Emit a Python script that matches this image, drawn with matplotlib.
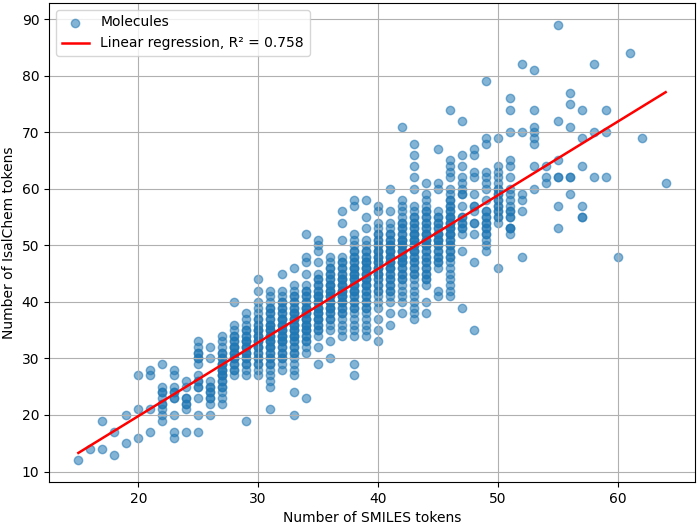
import numpy as np
import matplotlib
matplotlib.use("Agg")
import matplotlib.pyplot as plt

# number of SMILES tokens (one entry per column of points)
smiles_tokens = [15, 16, 17, 18, 19, 20, 21, 22, 23, 24, 25, 26, 27, 28, 29, 30, 31, 32, 33, 34,
                 35, 36, 37, 38, 39, 40, 41, 42, 43, 44, 45, 46, 47, 48, 49, 50, 51, 52, 53, 54,
                 55, 56, 57, 58, 59, 60, 61, 62, 64]

# number of IsalChem tokens for the molecules of each column
isalchem_tokens = [
    [12],
    [14],
    [19, 14],
    [17, 13],
    [20, 15],
    [27, 21, 16],
    [28, 27, 21, 17],
    [29, 25, 24, 23, 22, 21, 20, 19],
    [28, 27, 25, 24, 23, 20, 17, 16],
    [26, 25, 23, 22, 21, 17],
    [33, 32, 31, 30, 29, 27, 26, 25, 23, 20, 17],
    [32, 30, 26, 25, 24, 23, 22, 20],
    [34, 33, 32, 31, 30, 29, 28, 27, 26, 25, 24, 23, 22],
    [40, 36, 35, 34, 33, 32, 31, 30, 29, 28, 27],
    [38, 37, 36, 35, 34, 33, 32, 31, 30, 29, 28, 27, 19],
    [44, 42, 40, 39, 38, 37, 36, 35, 34, 33, 32, 31, 30, 29, 28, 27],
    [42, 41, 40, 39, 38, 37, 36, 35, 34, 33, 32, 31, 30, 29, 28, 27, 26, 25, 21],
    [45, 42, 41, 40, 39, 38, 37, 36, 35, 34, 33, 32, 31, 30, 29, 28],
    [46, 43, 42, 41, 40, 39, 38, 37, 36, 35, 34, 33, 32, 31, 30, 29, 28, 27, 24, 20],
    [52, 48, 47, 45, 43, 42, 41, 40, 39, 38, 37, 36, 35, 34, 33, 32, 31, 23],
    [51, 50, 49, 47, 45, 44, 43, 42, 41, 40, 39, 38, 37, 36, 35, 34, 32, 29],
    [48, 47, 46, 45, 44, 43, 42, 41, 40, 39, 38, 37, 36, 35, 33, 30],
    [56, 54, 51, 48, 47, 46, 45, 44, 43, 42, 41, 40, 39, 38, 37, 36, 35, 34],
    [58, 57, 52, 51, 50, 49, 48, 47, 46, 45, 44, 43, 42, 41, 40, 39, 38, 37, 36, 35, 34, 29, 27],
    [58, 55, 53, 51, 50, 49, 48, 47, 46, 45, 44, 43, 42, 41, 40, 39, 38, 37, 36, 35, 34],
    [57, 56, 54, 53, 52, 51, 50, 49, 48, 47, 46, 45, 44, 43, 42, 41, 40, 39, 37, 35, 33],
    [60, 56, 54, 53, 52, 51, 50, 49, 48, 47, 46, 45, 44, 43, 42, 41, 40, 38, 36],
    [71, 58, 57, 56, 55, 54, 53, 52, 51, 50, 49, 48, 47, 46, 45, 44, 43, 42, 41, 40, 38],
    [68, 66, 64, 62, 60, 57, 56, 55, 54, 53, 52, 51, 50, 49, 48, 47, 46, 45, 44, 43, 42, 41, 40, 39, 38, 37],
    [61, 59, 58, 57, 56, 55, 54, 53, 52, 51, 50, 49, 48, 47, 46, 45, 44, 43, 40, 38],
    [67, 61, 60, 56, 55, 54, 53, 52, 51, 50, 49, 48, 47, 46, 42, 41],
    [74, 65, 64, 63, 62, 60, 59, 58, 57, 56, 55, 54, 53, 52, 51, 50, 49, 48, 47, 46, 45, 44, 43, 42, 41],
    [72, 66, 64, 62, 61, 60, 59, 57, 55, 54, 53, 52, 49, 39],
    [67, 66, 63, 62, 59, 57, 56, 54, 52, 47, 35],
    [79, 69, 68, 63, 62, 61, 60, 58, 56, 55, 54, 53, 52, 51, 50, 49],
    [69, 64, 63, 62, 61, 60, 59, 58, 57, 56, 55, 54, 46],
    [76, 74, 70, 65, 64, 62, 60, 59, 58, 57, 56, 55, 53, 52],
    [82, 70, 59, 58, 56, 48],
    [81, 74, 71, 70, 69, 68, 64, 60],
    [64, 62, 61],
    [89, 72, 65, 62, 57, 53],
    [77, 75, 71, 62, 59],
    [74, 69, 64, 57, 55],
    [82, 70, 62],
    [74, 70, 62],
    [48],
    [84],
    [69],
    [61],
]

# further molecules that share a value with one already listed (dense core)
isalchem_repeats = [
    [], [], [], [], [], [], [],
    [24, 22],
    [24, 23],
    [23, 22],
    [31, 30, 26, 25],
    [25, 24, 23],
    [31, 30, 29, 28, 27, 26, 25, 29, 28, 27],
    [34, 33, 32, 31, 30, 29, 28, 32, 31, 30],
    [35, 34, 33, 32, 31, 30, 29, 33, 32, 31],
    [37, 36, 35, 34, 33, 32, 31, 30, 29, 35, 34, 33, 32],
    [39, 38, 37, 36, 35, 34, 33, 32, 31, 30, 29, 36, 35, 34, 33, 32],
    [40, 39, 38, 37, 36, 35, 34, 33, 32, 31, 30, 37, 36, 35, 34, 33],
    [41, 40, 39, 38, 37, 36, 35, 34, 33, 32, 31, 38, 37, 36, 35, 34],
    [42, 41, 40, 39, 38, 37, 36, 35, 34, 33, 39, 38, 37, 36, 35],
    [44, 43, 42, 41, 40, 39, 38, 37, 36, 35, 41, 40, 39, 38, 37],
    [46, 45, 44, 43, 42, 41, 40, 39, 38, 37, 43, 42, 41, 40, 39],
    [47, 46, 45, 44, 43, 42, 41, 40, 39, 38, 44, 43, 42, 41, 40],
    [49, 48, 47, 46, 45, 44, 43, 42, 41, 40, 39, 46, 45, 44, 43, 42],
    [49, 48, 47, 46, 45, 44, 43, 42, 41, 40, 39, 47, 46, 45, 44, 43],
    [52, 51, 50, 49, 48, 47, 46, 45, 44, 43, 42, 49, 48, 47, 46, 45],
    [52, 51, 50, 49, 48, 47, 46, 45, 44, 43, 42, 50, 49, 48, 47, 46],
    [54, 53, 52, 51, 50, 49, 48, 47, 46, 45, 44, 51, 50, 49, 48, 47],
    [55, 54, 53, 52, 51, 50, 49, 48, 47, 46, 45, 52, 51, 50, 49],
    [56, 55, 54, 53, 52, 51, 50, 49, 48, 47, 46, 45, 44, 52, 51, 50],
    [55, 54, 53, 52, 51, 50, 49, 48, 47, 52, 51],
    [58, 57, 56, 55, 54, 53, 52, 51, 50, 49, 48, 55, 54, 53, 52],
    [59, 55, 54, 53],
    [57, 54],
    [56, 55, 54, 53, 52],
    [60, 59, 58, 57, 56, 55],
    [56, 55, 53, 53],
    [],
    [],
    [],
    [62],
    [62],
    [55],
    [], [], [], [], [], [],
]

r_squared = 0.758

x = []
y = []
for sx, ys, reps in zip(smiles_tokens, isalchem_tokens, isalchem_repeats):
    for v in ys + reps:
        x.append(sx)
        y.append(v)
x = np.array(x)
y = np.array(y)

slope, intercept = np.polyfit(x, y, 1)
x_line = np.sort(x)
y_line = slope * x_line + intercept

fig = plt.figure(figsize=(6.99, 5.25), dpi=100)
fig.subplots_adjust(left=49/699, right=695/699, top=1-3/525, bottom=1-482/525)
ax = fig.add_subplot(111)
ax.scatter(x, y, alpha=0.55, label="Molecules")
ax.plot(x_line, y_line, color="red", linewidth=1.8,
        label=f"Linear regression, R² = {r_squared:.3f}")
ax.set_xlabel("Number of SMILES tokens")
ax.set_ylabel("Number of IsalChem tokens")
ax.grid(True)
ax.legend(loc="upper left")

fig.savefig("out.png", dpi=100)
